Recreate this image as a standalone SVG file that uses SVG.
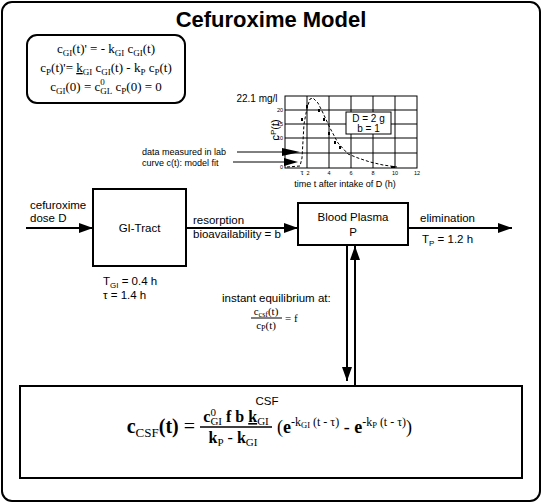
<svg xmlns="http://www.w3.org/2000/svg" width="543" height="504" viewBox="0 0 543 504">
<style>
.sans{font-family:"Liberation Sans",Arial,sans-serif;fill:#000}
.serif{font-family:"Liberation Serif","Times New Roman",serif;fill:#000}
.box{fill:#fff;stroke:#000;stroke-width:2}
.thin{fill:none;stroke:#000;stroke-width:1}
.con{fill:none;stroke:#000;stroke-width:2}
.lbl{font-size:11.5px}
.s{font-size:9px}
</style>
<defs>
<marker id="ah" markerWidth="14" markerHeight="10" refX="14" refY="5" orient="auto" markerUnits="userSpaceOnUse"><path d="M0,0 L14,5 L0,10 z" fill="#000"/></marker>
</defs>
<rect width="543" height="504" fill="#fff"/>
<g id="frame"><rect x="2" y="2" width="538" height="499" rx="10" class="box"/></g>
<g id="title"><text x="271" y="27" text-anchor="middle" class="sans" font-size="22" font-weight="bold">Cefuroxime Model</text></g>

<g id="equations">
<rect x="27" y="35" width="158" height="68" rx="10" class="box" stroke-width="1.2"/>
<text x="106" y="53" text-anchor="middle" class="serif" font-size="13">c<tspan class="s" dy="3">GI</tspan><tspan dy="-3">(t)' = - k</tspan><tspan class="s" dy="3">GI</tspan><tspan dy="-3"> c</tspan><tspan class="s" dy="3">GI</tspan><tspan dy="-3">(t)</tspan></text>
<text x="106" y="72" text-anchor="middle" class="serif" font-size="13">c<tspan class="s" dy="3">P</tspan><tspan dy="-3">(t)'= </tspan><tspan text-decoration="underline">k</tspan><tspan class="s" dy="3">GI</tspan><tspan dy="-3"> c</tspan><tspan class="s" dy="3">GI</tspan><tspan dy="-3">(t) - k</tspan><tspan class="s" dy="3">P</tspan><tspan dy="-3"> c</tspan><tspan class="s" dy="3">P</tspan><tspan dy="-3">(t)</tspan></text>
<text x="106" y="91" text-anchor="middle" class="serif" font-size="13">c<tspan class="s" dy="3">GI</tspan><tspan dy="-3">(0) = c</tspan><tspan class="s" dy="-6">0</tspan><tspan class="s" dx="-4.5" dy="9">GL</tspan><tspan dy="-3"> c</tspan><tspan class="s" dy="3">P</tspan><tspan dy="-3">(0) = 0</tspan></text>
</g>

<g id="chart">
<rect x="285" y="96" width="132" height="72" class="thin"/>
<path class="thin" d="M307,96V168M329,96V168M351,96V168M373,96V168M395,96V168M285,110H417M285,124H417M285,138H417M285,153H417"/>
<rect x="346" y="112" width="45" height="22" fill="#fff" stroke="#000" stroke-width="1"/>
<text x="368.5" y="122" text-anchor="middle" class="sans" font-size="10">D = 2 g</text>
<text x="368.5" y="132" text-anchor="middle" class="sans" font-size="10">b = 1</text>
<path d="M287,167 L300,166 L302,158 L304,124 L307,108 L310,99 L313,98 L318,103 L323,113 L330,128 L338,143 L348,154 L358,158 L370,162 L383,165 L397,167" fill="none" stroke="#000" stroke-width="1" stroke-dasharray="3,2"/>
<g fill="#000">
<rect x="301" y="118" width="2" height="3"/><rect x="306" y="105" width="2" height="3"/><rect x="318" y="109" width="2" height="3"/><rect x="323" y="118" width="2" height="3"/><rect x="328" y="132" width="2" height="3"/><rect x="334" y="141" width="2" height="3"/><rect x="339" y="146" width="2" height="3"/><rect x="391" y="166" width="4" height="2"/>
</g>
<g class="sans" font-size="5.5" text-anchor="end">
<text x="283" y="112">20</text><text x="283" y="126">15</text><text x="283" y="140">10</text><text x="283" y="169">0</text>
</g>
<g class="sans" font-size="5.5" text-anchor="middle">
<text x="302" y="175" font-size="8" class="serif">τ</text><text x="308" y="175">2</text><text x="329" y="175">4</text><text x="351" y="175">6</text><text x="373" y="175">8</text><text x="395" y="175">10</text><text x="417" y="175">12</text>
</g>
<text x="345" y="187" text-anchor="middle" class="sans" font-size="9">time t after intake of D (h)</text>
<text x="257" y="102" text-anchor="middle" class="sans" font-size="10">22.1 mg/l</text>
<text transform="translate(279,130) rotate(-90)" text-anchor="middle" class="sans" font-size="11">c<tspan font-size="8" dy="-3">P</tspan><tspan dy="3">(t)</tspan></text>
<text x="142" y="155" class="sans" font-size="9">data measured in lab</text>
<text x="142" y="166" class="sans" font-size="9">curve c(t): model fit</text>
<path d="M237,152H284M233,162H285" class="thin"/>
<path d="M282,148 L300,152 L282,156 z M284,158 L298,162 L284,166 z" fill="#000"/>
</g>

<g id="node-gi">
<rect x="93" y="189" width="93" height="77" class="box"/>
<text x="139.5" y="232" text-anchor="middle" class="sans lbl">GI-Tract</text>
</g>
<g id="node-plasma">
<rect x="298" y="203" width="110" height="42" class="box"/>
<text x="353" y="221" text-anchor="middle" class="sans lbl">Blood Plasma</text>
<text x="353" y="236" text-anchor="middle" class="sans lbl">P</text>
</g>
<g id="node-csf">
<rect x="20" y="386" width="502" height="92" class="box"/>
<text x="267" y="405" text-anchor="middle" class="sans lbl">CSF</text>
<text x="195" y="433" text-anchor="end" class="serif" font-size="20" font-weight="bold">c<tspan font-size="13" font-weight="normal" dy="4">CSF</tspan><tspan dy="-4">(t)</tspan><tspan font-weight="normal"> =</tspan></text>
<text x="236" y="422" text-anchor="middle" class="serif" font-size="16" font-weight="bold">c<tspan font-size="11" font-weight="normal" dy="-6">0</tspan><tspan font-size="11" font-weight="normal" dx="-5.5" dy="9">GI</tspan><tspan dy="-3"> f b </tspan><tspan text-decoration="underline">k</tspan><tspan font-size="11" font-weight="normal" dy="3">GI</tspan></text>
<line x1="200" y1="427" x2="272" y2="427" stroke="#000" stroke-width="1.3"/>
<text x="233" y="443" text-anchor="middle" class="serif" font-size="16" font-weight="bold">k<tspan font-size="11" font-weight="normal" dy="3">P</tspan><tspan font-weight="normal" dy="-3"> - </tspan>k<tspan font-size="11" font-weight="normal" dy="3">GI</tspan></text>
<text x="277" y="433" class="serif" font-size="18">(<tspan font-weight="bold">e</tspan><tspan font-size="12" dy="-7">-k</tspan><tspan font-size="8.5" dy="2">GI</tspan><tspan font-size="12" dy="-2"> (t - τ)</tspan><tspan dy="7"> - </tspan><tspan font-weight="bold">e</tspan><tspan font-size="12" dy="-7">-k</tspan><tspan font-size="8.5" dy="2">P</tspan><tspan font-size="12" dy="-2"> (t - τ)</tspan><tspan dy="7">)</tspan></text>
</g>

<g id="connectors">
<line x1="26" y1="228" x2="93" y2="228" class="con" marker-end="url(#ah)"/>
<line x1="187" y1="228" x2="298" y2="228" class="con" marker-end="url(#ah)"/>
<line x1="409" y1="228" x2="512" y2="228" class="con" marker-end="url(#ah)"/>
<line x1="347" y1="246" x2="347" y2="381" class="con" marker-end="url(#ah)"/>
<line x1="355" y1="385" x2="355" y2="246" class="con" marker-end="url(#ah)"/>
</g>

<g id="labels" class="sans lbl">
<text x="30" y="209">cefuroxime</text>
<text x="30" y="222">dose D</text>
<text x="193" y="224">resorption</text>
<text x="193" y="238">bioavailability = b</text>
<text x="420" y="222">elimination</text>
<text x="422" y="243">T<tspan font-size="8" dy="3">P</tspan><tspan dy="-3">  = 1.2 h</tspan></text>
<text x="103" y="285">T<tspan font-size="8" dy="3">GI</tspan><tspan dy="-3">  = 0.4 h</tspan></text>
<text x="103" y="299">τ = 1.4 h</text>
<text x="222" y="302">instant equilibrium at:</text>
<text x="266" y="315" text-anchor="middle" class="serif" font-size="11">c<tspan font-size="8" dy="2">csf</tspan><tspan dy="-2">(t)</tspan></text>
<line x1="251" y1="318" x2="282" y2="318" stroke="#000" stroke-width="1"/>
<text x="266" y="329" text-anchor="middle" class="serif" font-size="11">c<tspan font-size="8" dy="2">P</tspan><tspan dy="-2">(t)</tspan></text>
<text x="285" y="322" class="serif" font-size="11">= f</text>
</g>
</svg>
